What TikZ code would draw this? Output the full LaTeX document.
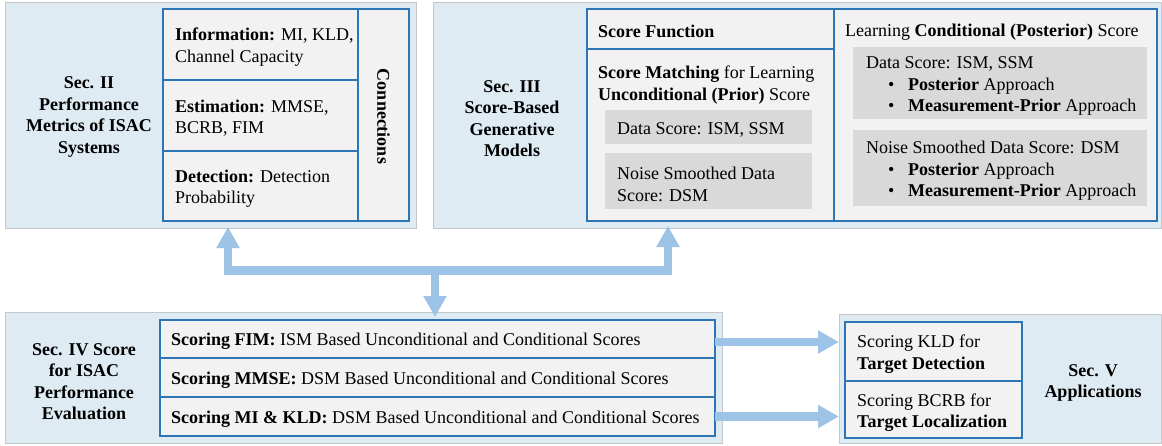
\documentclass[tikz,border=0pt]{standalone}
\usepackage{fontspec}
\setmainfont{Liberation Serif}
\usetikzlibrary{arrows.meta}
\definecolor{panelfill}{HTML}{DEEBF2}
\definecolor{panelline}{HTML}{C4C8CC}
\definecolor{boxfill}{HTML}{F2F2F2}
\definecolor{boxline}{HTML}{2E75B6}
\definecolor{subfill}{HTML}{D9D9D9}
\definecolor{arrowblue}{HTML}{9DC3E6}
\begin{document}
\begin{tikzpicture}[x=1pt,y=-1pt,
  rect/.style={anchor=north west, inner sep=0pt, outer sep=0pt},
  panel/.style={rect, fill=panelfill, draw=panelline, line width=1pt},
  inbox/.style={rect, fill=boxfill, draw=boxline, line width=1.5pt},
  subbox/.style={rect, fill=subfill},
  txt/.style={inner sep=0pt, align=left, anchor=west, yshift=-2pt, font=\fontsize{18pt}{21.5pt}\selectfont},
  lbl/.style={inner sep=0pt, align=center, yshift=-1.5pt, font=\fontsize{18pt}{21.5pt}\selectfont\bfseries},
  bigarrow/.style={draw=arrowblue, line width=8.5pt, line join=miter}
]
\useasboundingbox (0,0) rectangle (1162,445);
% ---------- Sec II ----------
\node[panel, minimum width=411pt, minimum height=226pt] (s2) at (5,2) {};
\node[inbox, minimum width=195pt, minimum height=71pt] (s2a) at (163,9) {};
\node[inbox, minimum width=195pt, minimum height=71pt] (s2b) at (163,80) {};
\node[inbox, minimum width=195pt, minimum height=70pt] (s2c) at (163,151) {};
\node[inbox, minimum width=51pt, minimum height=212pt] (s2con) at (358,9) {};
\node[lbl] (s2lbl) at (89,115.5) {Sec. II\\Performance\\Metrics of ISAC\\Systems};
\node[txt] (s2at) at (175,45) {\textbf{Information:} MI, KLD,\\Channel Capacity};
\node[txt] (s2bt) at (175,116) {\textbf{Estimation:} MMSE,\\BCRB, FIM};
\node[txt] (s2ct) at (175,186.5) {\textbf{Detection:} Detection\\Probability};
\node[lbl, rotate=-90, yshift=0pt] (s2cont) at (s2con.center) {Connections};
% ---------- Sec III ----------
\node[panel, minimum width=728pt, minimum height=226pt] (s3) at (433,2) {};
\node[inbox, minimum width=247pt, minimum height=40pt] (s3sf) at (587,9) {};
\node[inbox, minimum width=247pt, minimum height=172pt] (s3sm) at (587,49) {};
\node[inbox, minimum width=323pt, minimum height=212pt] (s3r) at (834,9) {};
\node[subbox, minimum width=207pt, minimum height=34pt] (g1) at (605,110) {};
\node[subbox, minimum width=207pt, minimum height=56pt] (g2) at (605,153) {};
\node[subbox, minimum width=294pt, minimum height=72pt] (g3) at (853,47) {};
\node[subbox, minimum width=294pt, minimum height=76pt] (g4) at (853,130) {};
\node[lbl] (s3lbl) at (512,117) {Sec. III\\Score-Based\\Generative\\Models};
\node[txt] (s3sft) at (598,29.5) {\textbf{Score Function}};
\node[txt] (s3smt) at (598,83) {\textbf{Score Matching} for Learning\\\textbf{Unconditional (Prior)} Score};
\node[txt] (g1t) at (617,127.5) {Data Score: ISM, SSM};
\node[txt] (g2t) at (617,182.5) {Noise Smoothed Data\\Score: DSM};
\node[txt] (s3rt) at (845,30) {Learning \textbf{Conditional (Posterior)} Score};
\node[txt] (g3t) at (866,84) {Data Score: ISM, SSM\\
  \hspace*{22pt}\makebox[20pt][l]{•}\textbf{Posterior} Approach\\
  \hspace*{22pt}\makebox[20pt][l]{•}\textbf{Measurement-Prior} Approach};
\node[txt] (g4t) at (866,169) {Noise Smoothed Data Score: DSM\\
  \hspace*{22pt}\makebox[20pt][l]{•}\textbf{Posterior} Approach\\
  \hspace*{22pt}\makebox[20pt][l]{•}\textbf{Measurement-Prior} Approach};
% ---------- Sec IV ----------
\node[panel, minimum width=717pt, minimum height=131pt] (s4) at (5,312) {};
\node[inbox, minimum width=555pt, minimum height=38pt] (r1) at (160,320) {};
\node[inbox, minimum width=555pt, minimum height=39pt] (r2) at (160,358) {};
\node[inbox, minimum width=555pt, minimum height=39pt] (r3) at (160,397) {};
\node[lbl] (s4lbl) at (84,380) {Sec. IV Score\\for ISAC\\Performance\\Evaluation};
\node[txt] (r1t) at (171,339.5) {\textbf{Scoring FIM:} ISM Based Unconditional and Conditional Scores};
\node[txt] (r2t) at (171,378) {\textbf{Scoring MMSE:} DSM Based Unconditional and Conditional Scores};
\node[txt] (r3t) at (171,417) {\textbf{Scoring MI \& KLD:} DSM Based Unconditional and Conditional Scores};
% ---------- Sec V ----------
\node[panel, minimum width=322pt, minimum height=129pt] (s5) at (839,314) {};
\node[inbox, minimum width=177pt, minimum height=59pt] (v1) at (845,322) {};
\node[inbox, minimum width=177pt, minimum height=57pt] (v2) at (845,381) {};
\node[lbl] (s5lbl) at (1093,381.5) {Sec. V\\Applications};
\node[txt] (v1t) at (857,352) {Scoring KLD for\\\textbf{Target Detection}};
\node[txt] (v2t) at (857,410.5) {Scoring BCRB for\\\textbf{Target Localization}};
% ---------- connectors ----------
\coordinate (a2) at (228,227);
\coordinate (a3) at (668,226);
\coordinate (mid) at (435,270.5);
\coordinate (a4) at (435,317);
\draw[bigarrow, {Triangle[width=22pt,length=21pt]}-{Triangle[width=22pt,length=21pt]}]
  (a2) -- (a2 |- mid) -- (a3 |- mid) -- (a3);
\draw[bigarrow, -{Triangle[width=22pt,length=21pt]}] (mid) -- (a4);
\draw[bigarrow, -{Triangle[width=22pt,length=21pt]}] ([yshift=-3pt]r1.east) -- ([yshift=-3pt]r1.east -| s5.west);
\draw[bigarrow, -{Triangle[width=22pt,length=21pt]}] (r3.east) -- (r3.east -| s5.west);
\end{tikzpicture}
\end{document}
